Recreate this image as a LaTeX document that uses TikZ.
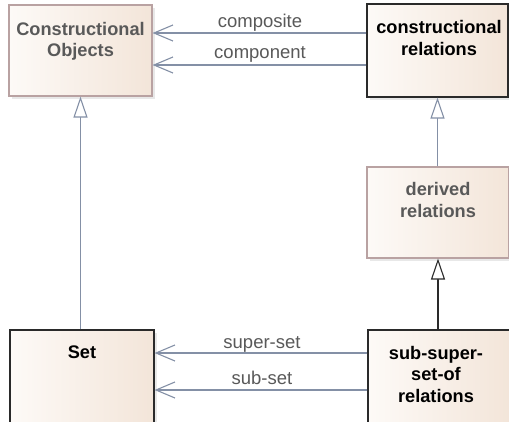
\documentclass[tikz,border=0pt]{standalone}
\usepackage{fontspec}
\setmainfont{Liberation Sans}
\usetikzlibrary{arrows.meta,shadows}
\definecolor{linec}{HTML}{8490A6}
\definecolor{greyt}{HTML}{595959}
\definecolor{pinkb}{HTML}{B9A2A2}
\definecolor{darkb}{HTML}{2A2A2A}
\definecolor{fillL}{HTML}{FDFAF7}
\definecolor{fillR}{HTML}{F3E5D9}
\tikzset{
  box/.style={rectangle, draw, line width=1.1pt, left color=fillL, right color=fillR,
    inner sep=0pt, drop shadow={shadow xshift=2.5pt, shadow yshift=-2.5pt, fill=gray!35}},
  softbox/.style={box, draw=pinkb},
  hardbox/.style={box, draw=darkb},
  boxtxt/.style={font=\fontsize{18.2}{21.5}\selectfont\bfseries, align=center, inner sep=0pt, anchor=base},
  lbl/.style={font=\fontsize{18.5}{21}\selectfont, text=greyt, inner sep=0pt, anchor=base},
  assoc/.style={draw=linec, line width=1.1pt, -{Straight Barb[length=19pt, width=16pt, line width=1.1pt]}},
  gen/.style={draw=linec, line width=1.1pt, -{Triangle[open, length=21pt, width=14pt, line width=1.1pt, fill=white]}},
  genk/.style={draw=darkb, line width=1.1pt, -{Triangle[open, length=21pt, width=14pt, line width=1.1pt, fill=white]}},
}
\begin{document}
\begin{tikzpicture}[x=1pt, y=-1pt]
\clip (0,0) rectangle (509,421);
\fill[white] (0,0) rectangle (509,421);

% boxes
\node[softbox, minimum width=143pt, minimum height=91pt] (co) at (80.5,50.5) {};
\node[hardbox, minimum width=141pt, minimum height=93pt] (cr) at (437.5,50.5) {};
\node[softbox, minimum width=142pt, minimum height=91pt] (dr) at (438,212.5) {};
\node[hardbox, minimum width=144pt, minimum height=95pt] (set) at (82,377.5) {};
\node[hardbox, minimum width=142pt, minimum height=95pt] (ssr) at (439,377.5) {};

% box texts (anchored at the baseline of the last line)
\node[boxtxt, text=greyt] (co-t) at (80.5,56.5) {Constructional\\Objects};
\node[boxtxt, text=black] (cr-t) at (439,55) {constructional\\relations};
\node[boxtxt, text=greyt] (dr-t) at (438,217) {derived\\relations};
\node[boxtxt, text=black] (set-t) at (82,358) {Set};
\node[boxtxt, text=black] (ssr-t) at (436,402) {sub-super-\\set-of\\relations};

% associations
\draw[assoc] (cr.west |- 0,33) -- (co.east |- 0,33);
\draw[assoc] (cr.west |- 0,65) -- (co.east |- 0,65);
\draw[assoc] (ssr.west |- 0,353) -- (set.east |- 0,353);
\draw[assoc] (ssr.west |- 0,390) -- (set.east |- 0,390);

\node[lbl] (l1) at (260,27) {composite};
\node[lbl] (l2) at (260,58) {component};
\node[lbl] (l3) at (262,348) {super-set};
\node[lbl] (l4) at (262,384) {sub-set};

% generalizations
\draw[gen] (set.north -| co.south) -- (co.south);
\draw[gen] (dr.north -| cr.south) -- (cr.south);
\draw[genk] (ssr.north -| dr.south) -- (dr.south);
\end{tikzpicture}
\end{document}
